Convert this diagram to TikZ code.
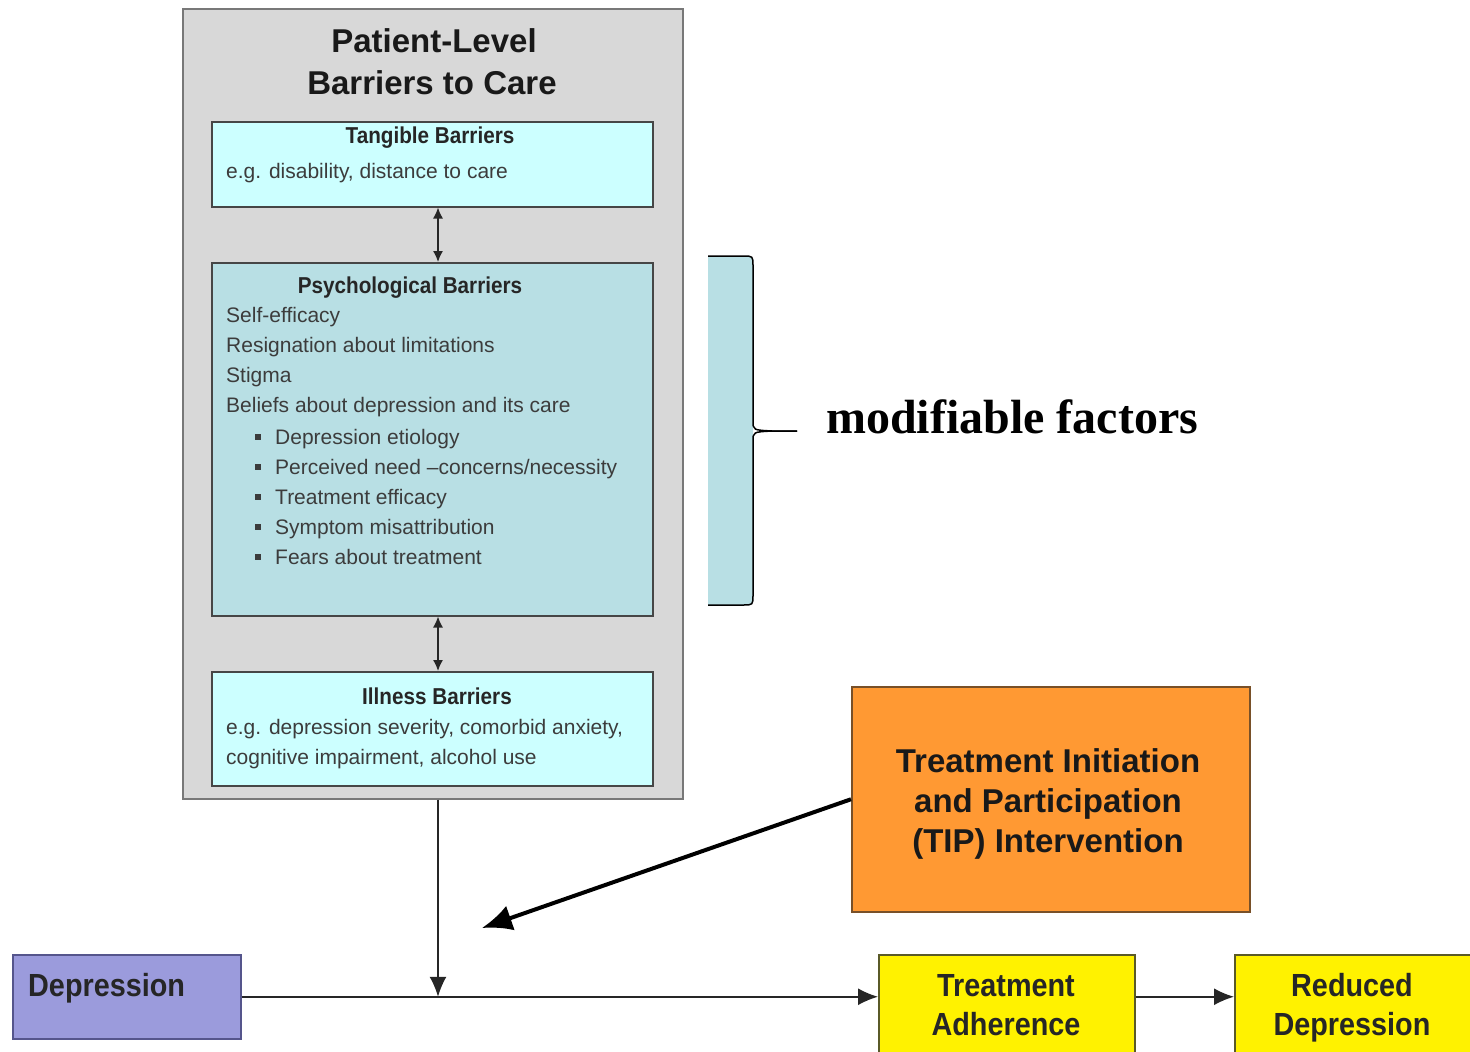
\documentclass[tikz,border=0pt]{standalone}
\usepackage{fontspec}
\setmainfont{Liberation Sans}
\newfontfamily\narrow[FakeStretch=0.9]{Liberation Sans}
\newfontfamily\timesbf{Liberation Serif}
\usepackage{tikz}
\usetikzlibrary{positioning,arrows.meta}

\definecolor{greyfill}{RGB}{216,216,216}
\definecolor{greyline}{RGB}{120,120,120}
\definecolor{cyanfill}{RGB}{204,255,255}
\definecolor{tealfill}{RGB}{184,223,228}
\definecolor{boxline}{RGB}{70,70,70}
\definecolor{lavender}{RGB}{155,155,220}
\definecolor{lavline}{RGB}{85,85,140}
\definecolor{tiporange}{RGB}{255,153,51}
\definecolor{tipline}{RGB}{120,80,40}
\definecolor{yellowline}{RGB}{90,90,40}
\definecolor{textgrey}{RGB}{60,60,60}

\tikzset{
  box/.style={draw=boxline, line width=1.5pt, anchor=north west, inner sep=0pt},
  bigtitle/.style={font=\fontsize{33}{40}\selectfont\bfseries, text=black!90},
  boxtitle/.style={font=\narrow\fontsize{23}{28}\selectfont\bfseries, text=black!85},
  bodytext/.style={font=\fontsize{21}{30}\selectfont, text=textgrey, inner sep=0pt},
  bignarrow/.style={font=\narrow\fontsize{32}{39}\selectfont\bfseries, text=black!85},
  link/.style={draw=black!85, line width=1.5pt},
  twohead/.style={link, {Latex[length=11pt,width=10pt]}-{Latex[length=11pt,width=10pt]}},
  onehead/.style={link, -{Latex[length=20pt,width=17pt]}}
}

\newcommand{\sqbullet}{\llap{\rule[4pt]{6.5pt}{6.5pt}\hspace{14pt}}}

\begin{document}
\begin{tikzpicture}[x=1pt, y=-1pt]
    \useasboundingbox (0,0) rectangle (1470,1052);

    % patient-level barriers
    \node[box, draw=greyline, fill=greyfill, minimum width=500, minimum height=790] (care) at (182,8) {};
    \node[bigtitle, anchor=base] (care1) at (434,52) {Patient-Level};
    \node[bigtitle, anchor=base] (care2) at (432,94) {Barriers to Care};

    \node[box, fill=cyanfill, minimum width=441, minimum height=85] (tang) at (211,121) {};
    \node[boxtitle, anchor=base] (tangt) at (430,143) {Tangible Barriers};
    \node[bodytext, anchor=base west] (tangb) at (226,178) {e.g. disability, distance to care};

    \node[box, fill=tealfill, minimum width=441, minimum height=353] (psych) at (211,262) {};
    \node[boxtitle, anchor=base] (psycht) at (410,293) {Psychological Barriers};
    \foreach \ln [count=\i] in {Self-efficacy, Resignation about limitations, Stigma, Beliefs about depression and its care}
        \node[bodytext, anchor=base west] (ps\i) at (226,292+30*\i) {\ln};
    \foreach \ln [count=\i] in {Depression etiology, Perceived need --concerns/necessity, Treatment efficacy, Symptom misattribution, Fears about treatment}
        \node[bodytext, anchor=base west] (bl\i) at (275,414+30*\i) {\sqbullet\ln};

    \node[box, fill=cyanfill, minimum width=441, minimum height=114] (ill) at (211,671) {};
    \node[boxtitle, anchor=base] (illt) at (437,704) {Illness Barriers};
    \node[bodytext, anchor=base west] (illb1) at (226,734) {e.g. depression severity, comorbid anxiety,};
    \node[bodytext, anchor=base west] (illb2) at (226,764) {cognitive impairment, alcohol use};

    % brace
    \fill[tealfill] (708,256) -- (743,256) .. controls (753,256) .. (753,266) -- (753,595) .. controls (753,605) .. (743,605) -- (708,605) -- cycle;
    \draw[line width=1.5pt] (708,256) -- (743,256) .. controls (753,256) .. (753,266) -- (753,421)
        .. controls (753,430) .. (772,431) -- (797,431);
    \draw[line width=1.5pt] (797,431) -- (772,431) .. controls (753,432) .. (753,441) -- (753,595)
        .. controls (753,605) .. (743,605) -- (708,605);
    \node[font=\timesbf\fontsize{48}{56}\selectfont\bfseries, anchor=base west, inner sep=0pt] (mod) at (826,433) {modifiable factors};

    % intervention and outcome
    \node[box, draw=tipline, fill=tiporange, minimum width=398, minimum height=225] (tip) at (851,686) {};
    \foreach \ln [count=\i] in {Treatment Initiation, and Participation, (TIP) Intervention}
        \node[bigtitle, anchor=base] (tip\i) at (1048,732+40*\i) {\ln};

    \node[box, draw=lavline, fill=lavender, minimum width=228, minimum height=84] (dep) at (12,954) {};
    \node[bignarrow, anchor=base west, inner sep=0pt] (dept) at (28,996) {Depression};

    \node[box, draw=yellowline, fill=yellow, minimum width=256, minimum height=120] (ta) at (878,954) {};
    \node[bignarrow, anchor=base] (ta1) at (1006,996) {Treatment};
    \node[bignarrow, anchor=base] (ta2) at (1006,1035) {Adherence};

    \node[box, draw=yellowline, fill=yellow, minimum width=260, minimum height=120] (rd) at (1234,954) {};
    \node[bignarrow, anchor=base] (rd1) at (1352,996) {Reduced};
    \node[bignarrow, anchor=base] (rd2) at (1352,1035) {Depression};

    % connectors
    \coordinate (ax) at (438,0);
    \coordinate (aim) at (482,928);
    \draw[twohead] (tang.south -| ax) -- (psych.north -| ax);
    \draw[twohead] (psych.south -| ax) -- (ill.north -| ax);
    \draw[onehead] (care.south -| ax) -- (ax |- dep.east);
    \draw[onehead] (dep.east) -- (dep.east -| ta.west);
    \draw[onehead] (ta.east |- dep.east) -- (rd.west |- dep.east);
    \draw[line width=4pt, -{Latex[length=30pt,width=26pt]}] (tip.west) -- (aim);
\end{tikzpicture}
\end{document}
